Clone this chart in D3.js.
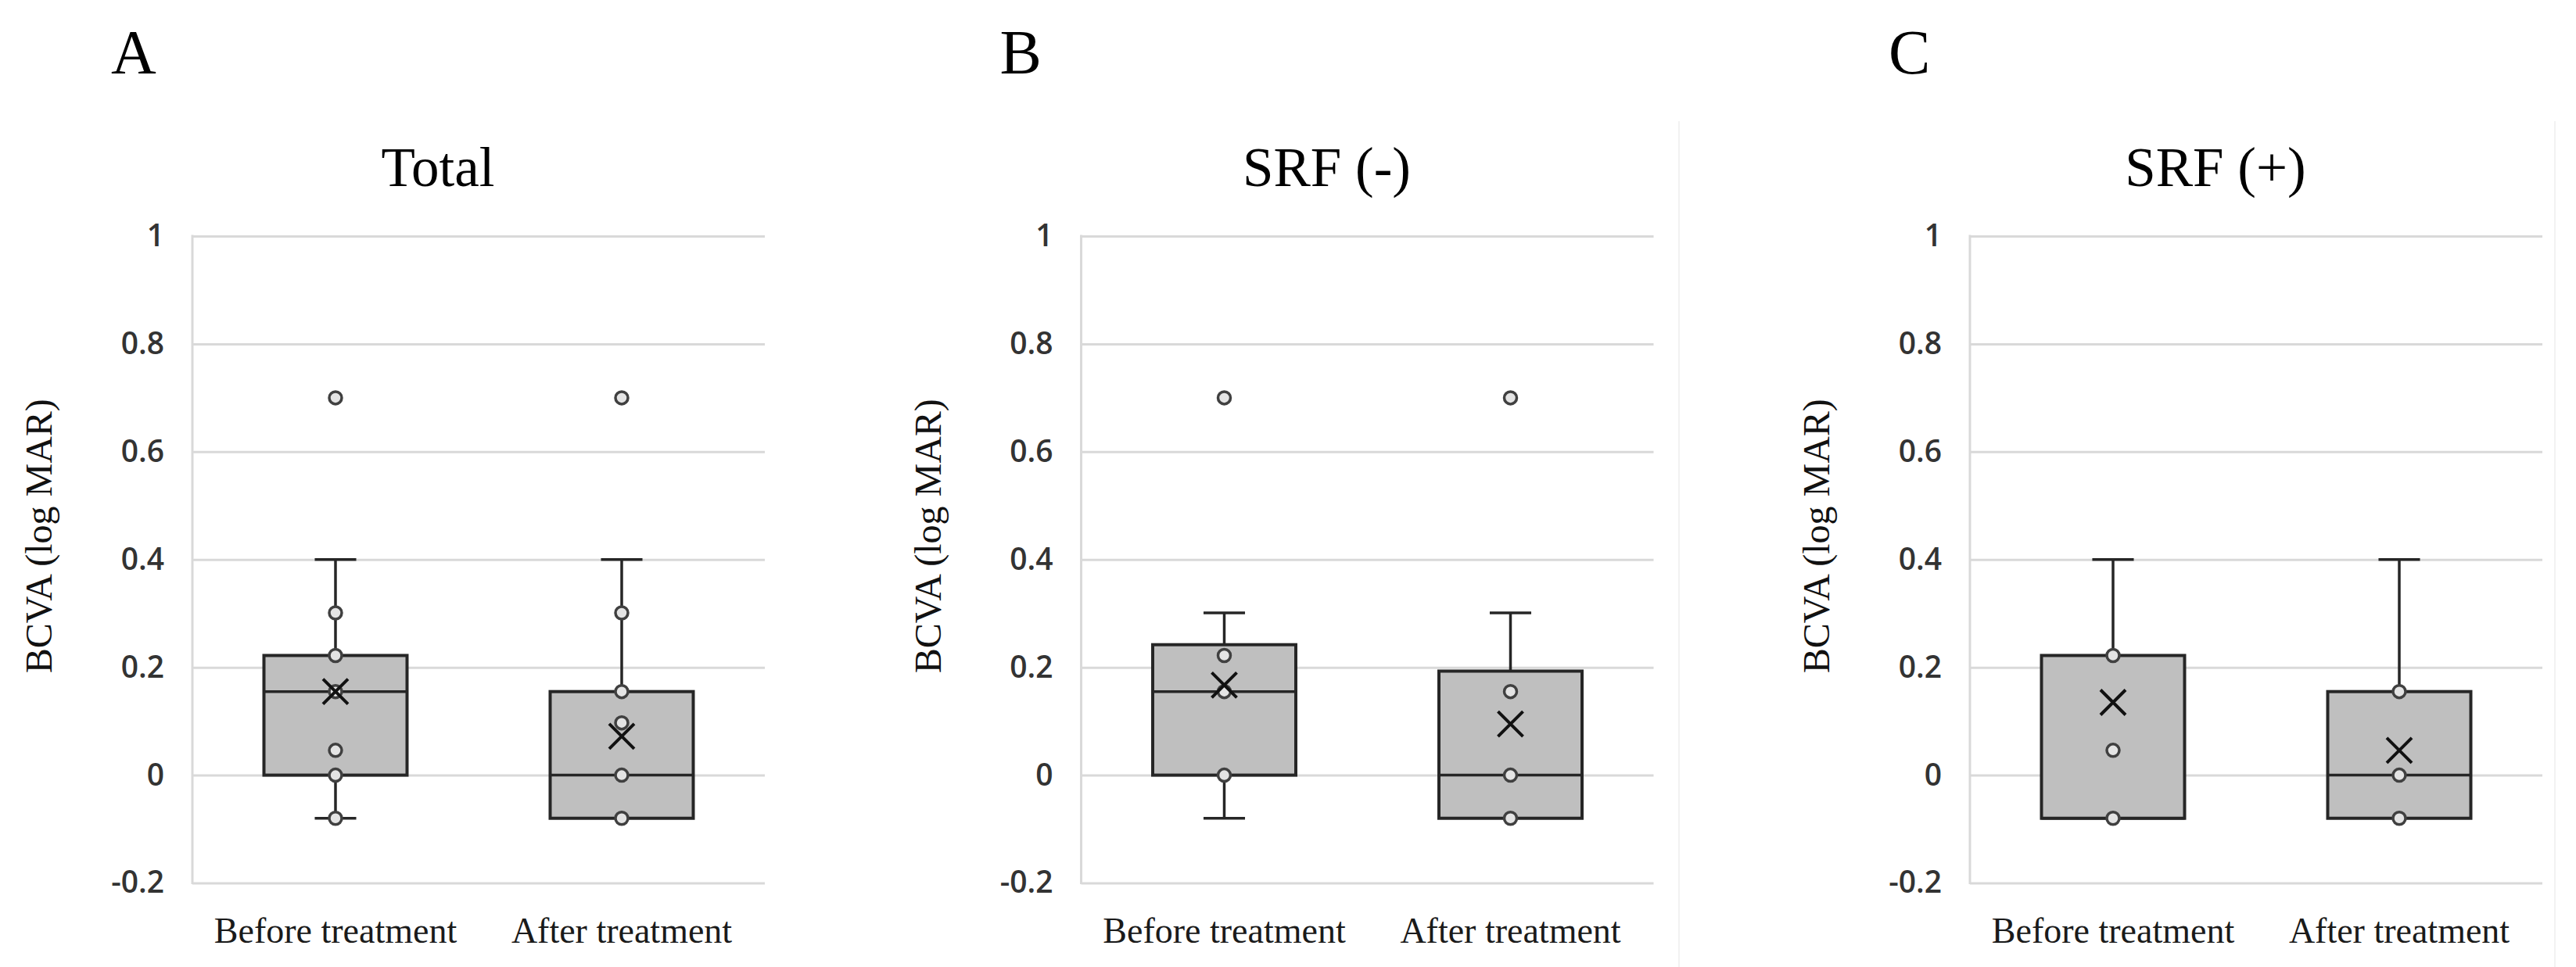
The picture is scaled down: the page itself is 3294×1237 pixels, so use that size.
<!DOCTYPE html>
<html lang="en">
<head>
<meta charset="utf-8">
<title>BCVA box plots</title>
<script src="https://d3js.org/d3.v7.min.js"></script>
<style>
  body { margin: 0; background: #ffffff; }
  svg { display: block; }
</style>
</head>
<body>
<div id="chart"></div>
<script>
// data (logMAR)
const letters = ["A", "B", "C"];
const titles = ["Total", "SRF (-)", "SRF (+)"];
const categories = ["Before treatment", "After treatment"];
const tickValues = [-0.2, 0, 0.2, 0.4, 0.6, 0.8, 1];
const tickLabels = ["-0.2", "0", "0.2", "0.4", "0.6", "0.8", "1"];

// one entry per panel, each [before, after]
const q1 = [[0, -0.08], [0, -0.08], [-0.08, -0.08]];
const median = [[0.155, 0], [0.155, 0], [-0.08, 0]];
const q3 = [[0.222, 0.155], [0.242, 0.193], [0.222, 0.155]];
const whiskerLow = [[-0.08, -0.08], [-0.08, -0.08], [-0.08, -0.08]];
const whiskerHigh = [[0.4, 0.4], [0.301, 0.301], [0.4, 0.4]];
const means = [[0.155, 0.072], [0.167, 0.095], [0.135, 0.046]];
const points = [
  [[0.7, 0.301, 0.222, 0.155, 0.046, 0, -0.08], [0.7, 0.301, 0.155, 0.097, 0, -0.08]],
  [[0.7, 0.222, 0.155, 0], [0.7, 0.155, 0, -0.08]],
  [[0.222, 0.046, -0.08], [0.155, 0, -0.08]]
];

const width = 3294, height = 1237;
const panelStep = 1136.5;
const plotLeft = 246, plotWidth = 732;
const plotTop = 302, plotBottom = 1129.5;

const gridColor = "#d9d9d9";
const boxFill = "#bfbfbf";
const lineColor = "#262626";

const svg = d3.select("#chart")
  .append("svg")
  .attr("width", width)
  .attr("height", height);

svg.append("rect")
  .attr("width", width)
  .attr("height", height)
  .attr("fill", "#ffffff");

// faint chart-area borders visible in the picture
svg.append("line")
  .attr("x1", 2147).attr("x2", 2147).attr("y1", 155).attr("y2", height)
  .attr("stroke", "#f2f2f2").attr("stroke-width", 2);
svg.append("line")
  .attr("x1", 3267).attr("x2", 3267).attr("y1", 155).attr("y2", height)
  .attr("stroke", "#f2f2f2").attr("stroke-width", 2);

const y = d3.scaleLinear()
  .domain([-0.2, 1])
  .range([plotBottom, plotTop]);

titles.forEach((title, p) => {
  const ox = p * panelStep;
  const g = svg.append("g").attr("transform", "translate(" + ox + ",0)");

  const x = d3.scaleBand()
    .domain(categories)
    .range([plotLeft, plotLeft + plotWidth])
    .padding(0);
  const bw = x.bandwidth();
  const boxW = bw * 0.5;
  const capW = bw * 0.145;

  // panel letter and title
  g.append("text")
    .attr("x", 142)
    .attr("y", 94)
    .attr("font-family", "'Liberation Serif', 'Times New Roman', serif")
    .attr("font-size", 80)
    .attr("fill", "#000")
    .text(letters[p]);

  g.append("text")
    .attr("x", 560)
    .attr("y", 238)
    .attr("text-anchor", "middle")
    .attr("font-family", "'Liberation Serif', 'Times New Roman', serif")
    .attr("font-size", 71)
    .attr("fill", "#000")
    .text(title);

  // gridlines
  const grid = g.append("g")
    .attr("transform", "translate(" + plotLeft + ",0)")
    .call(d3.axisLeft(y).tickValues(tickValues).tickSize(-plotWidth).tickFormat(""));
  grid.select(".domain").remove();
  grid.selectAll(".tick line").attr("stroke", gridColor).attr("stroke-width", 3);

  g.append("line")
    .attr("x1", plotLeft).attr("x2", plotLeft)
    .attr("y1", y(1) - 1.5).attr("y2", y(-0.2) + 1.5)
    .attr("stroke", gridColor).attr("stroke-width", 3);

  // tick labels
  const yAxis = g.append("g")
    .attr("transform", "translate(" + (plotLeft - 36) + ",0)")
    .call(d3.axisLeft(y).tickValues(tickValues).tickSize(0).tickPadding(0)
      .tickFormat((d, i) => tickLabels[i]));
  yAxis.select(".domain").remove();
  yAxis.selectAll("text")
    .attr("font-family", "'Open Sans', sans-serif")
    .attr("font-weight", 600)
    .attr("font-size", 39)
    .attr("fill", "#333");

  // y axis title
  g.append("text")
    .attr("transform", "translate(66," + ((plotTop + plotBottom) / 2 - 30) + ") rotate(-90)")
    .attr("text-anchor", "middle")
    .attr("font-family", "'Liberation Serif', 'Times New Roman', serif")
    .attr("font-size", 48)
    .attr("fill", "#111")
    .text("BCVA (log MAR)");

  // category labels
  const xAxis = g.append("g")
    .attr("transform", "translate(0," + plotBottom + ")")
    .call(d3.axisBottom(x).tickSize(0).tickPadding(44));
  xAxis.select(".domain").remove();
  xAxis.selectAll("text")
    .attr("font-family", "'Liberation Serif', 'Times New Roman', serif")
    .attr("font-size", 46)
    .attr("fill", "#1a1a1a");

  categories.forEach((cat, c) => {
    const cx = x(cat) + bw / 2;
    const s = g.append("g");

    // whiskers
    if (whiskerHigh[p][c] > q3[p][c]) {
      s.append("line")
        .attr("x1", cx).attr("x2", cx)
        .attr("y1", y(q3[p][c])).attr("y2", y(whiskerHigh[p][c]))
        .attr("stroke", lineColor).attr("stroke-width", 3.5);
      s.append("line")
        .attr("x1", cx - capW / 2).attr("x2", cx + capW / 2)
        .attr("y1", y(whiskerHigh[p][c])).attr("y2", y(whiskerHigh[p][c]))
        .attr("stroke", lineColor).attr("stroke-width", 3.5);
    }
    if (whiskerLow[p][c] < q1[p][c]) {
      s.append("line")
        .attr("x1", cx).attr("x2", cx)
        .attr("y1", y(q1[p][c])).attr("y2", y(whiskerLow[p][c]))
        .attr("stroke", lineColor).attr("stroke-width", 3.5);
      s.append("line")
        .attr("x1", cx - capW / 2).attr("x2", cx + capW / 2)
        .attr("y1", y(whiskerLow[p][c])).attr("y2", y(whiskerLow[p][c]))
        .attr("stroke", lineColor).attr("stroke-width", 3.5);
    }

    // box
    s.append("rect")
      .attr("x", cx - boxW / 2)
      .attr("y", y(q3[p][c]))
      .attr("width", boxW)
      .attr("height", y(q1[p][c]) - y(q3[p][c]))
      .attr("fill", boxFill)
      .attr("stroke", lineColor)
      .attr("stroke-width", 4);

    s.append("line")
      .attr("x1", cx - boxW / 2).attr("x2", cx + boxW / 2)
      .attr("y1", y(median[p][c])).attr("y2", y(median[p][c]))
      .attr("stroke", lineColor).attr("stroke-width", 3.5);

    // inner points and outliers
    s.selectAll("circle")
      .data(points[p][c])
      .enter()
      .append("circle")
      .attr("cx", cx)
      .attr("cy", d => y(d))
      .attr("r", 8)
      .attr("fill", "#e4e4e4")
      .attr("stroke", "#404040")
      .attr("stroke-width", 3.5);

    // mean marker
    const m = 16;
    const my = y(means[p][c]);
    s.append("path")
      .attr("d", "M" + (cx - m) + "," + (my - m) + "L" + (cx + m) + "," + (my + m) +
                 "M" + (cx - m) + "," + (my + m) + "L" + (cx + m) + "," + (my - m))
      .attr("stroke", "#111")
      .attr("stroke-width", 4)
      .attr("fill", "none");
  });
});
</script>
</body>
</html>
